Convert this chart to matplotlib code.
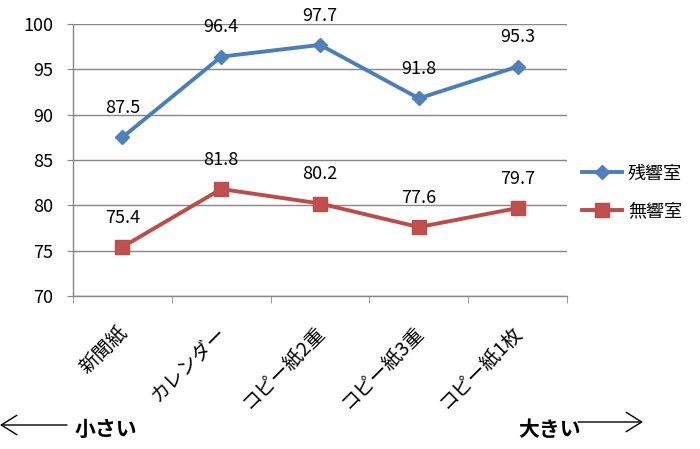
import numpy as np
import matplotlib
matplotlib.use('Agg')
from matplotlib import pyplot as plt
from matplotlib import transforms

plt.rcParams['font.family'] = ['Noto Sans CJK JP', 'DejaVu Sans']

categories = ['新聞紙', 'カレンダー', 'コピー紙2重', 'コピー紙3重', 'コピー紙1枚']
reverb = [87.5, 96.4, 97.7, 91.8, 95.3]     # 残響室
anechoic = [75.4, 81.8, 80.2, 77.6, 79.7]   # 無響室
series_names = ['残響室', '無響室']

blue = '#4A7EBB'
red = '#BE4B48'
grid_c = '#868686'

fig = plt.figure(figsize=(7, 4.49), dpi=100)
ax = fig.add_axes([0.1043, 0.3408, 0.81 - 0.1043, 0.9465 - 0.3408])

x = np.arange(len(categories))
ax.plot(x, reverb, color=blue, lw=2.8, marker='D', ms=7,
        mfc='#4F81BD', mec=blue, label=series_names[0], zorder=3)
ax.plot(x, anechoic, color=red, lw=2.8, marker='s', ms=9.5,
        mfc='#C0504D', mec=red, label=series_names[1], zorder=3)

# data labels above points
for vals in (reverb, anechoic):
    for xi, v in zip(x, vals):
        ax.annotate(f'{v:.1f}', (xi, v), xytext=(0, 21), textcoords='offset points',
                    ha='center', va='center', fontsize=13)

ax.set_xlim(-0.5, len(categories) - 0.5)
ax.set_ylim(70, 100)
ax.set_yticks(np.arange(70, 101, 5))
ax.yaxis.grid(True, color=grid_c, lw=1)
ax.set_axisbelow(True)

for s in ['top', 'right']:
    ax.spines[s].set_visible(False)
for s in ['left', 'bottom']:
    ax.spines[s].set_color(grid_c)
    ax.spines[s].set_linewidth(1)

ax.tick_params(axis='y', length=4, color=grid_c, pad=10, labelsize=13)
ax.set_xticks(x)
ax.set_xticklabels(categories, rotation=45, ha='right', va='center',
                   rotation_mode='anchor', fontsize=14)
ax.tick_params(axis='x', which='major', length=0, pad=24)
ax.set_xticks(np.arange(-0.5, len(categories)), minor=True)
ax.tick_params(axis='x', which='minor', length=5, color=grid_c)
shift = transforms.ScaledTranslation(2 / 100, 0, fig.dpi_scale_trans)
for lab in ax.get_xticklabels():
    lab.set_transform(lab.get_transform() + shift)

fig.legend(loc='center left', bbox_to_anchor=(582 / 700, 1 - 192.5 / 449),
           frameon=False, fontsize=13, borderpad=0, borderaxespad=0,
           handlelength=2.2, handletextpad=0.35, labelspacing=1.1)

# bottom arrows
arrow = dict(arrowstyle='->,head_length=0.8,head_width=0.5', lw=1.0,
             color='black', shrinkA=0, shrinkB=0, mutation_scale=14)
ax.annotate('', xy=(0, 24), xytext=(67, 24), xycoords='figure pixels',
            textcoords='figure pixels', arrowprops=arrow)
fig.text(75 / 700, 20 / 449, '小さい', ha='left', va='center', fontsize=15,
         fontweight='bold')
ax.annotate('', xy=(643, 27), xytext=(578, 27), xycoords='figure pixels',
            textcoords='figure pixels', arrowprops=arrow)
fig.text(518 / 700, 19 / 449, '大きい', ha='left', va='center', fontsize=15,
         fontweight='bold')

fig.savefig('out.png', dpi=100)
